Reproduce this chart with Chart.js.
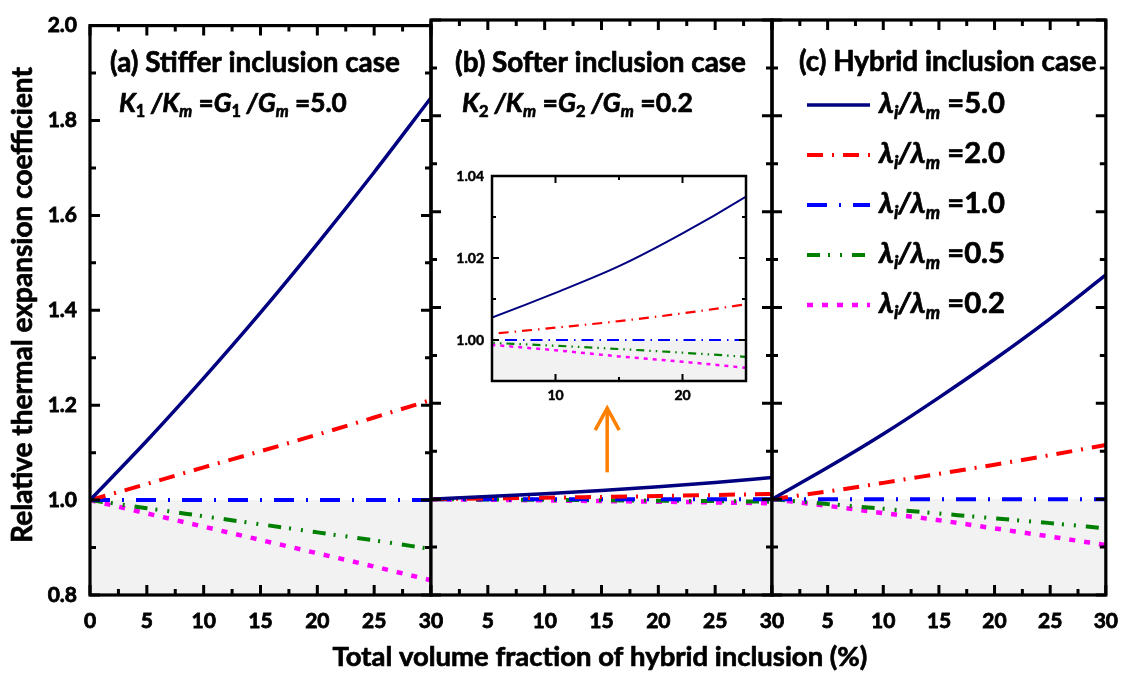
<!DOCTYPE html>
<html><head><meta charset="utf-8">
<script src="https://cdn.jsdelivr.net/npm/chart.js@4.4.0/dist/chart.umd.min.js"></script>
<style>
html,body{margin:0;padding:0;background:#fff}
#wrap{position:relative;width:1132px;height:675px;overflow:hidden}
canvas{position:absolute;left:0;top:0}
</style></head>
<body><div id="wrap">
<canvas id="cA" width="1132" height="675"></canvas>
<canvas id="cB" width="1132" height="675"></canvas>
<canvas id="cC" width="1132" height="675"></canvas>
<canvas id="cI" width="1132" height="675"></canvas>
</div>
<script>
// ---------------- DATA ----------------
const fractions = [0, 5, 10, 15, 20, 25, 30];
const ratioLabels = ['5.0', '2.0', '1.0', '0.5', '0.2'];
// (a) stiffer inclusion
const stiff50 = [1.000, 1.125, 1.257, 1.395, 1.540, 1.691, 1.848];
const stiff20 = [1.000, 1.034, 1.069, 1.103, 1.138, 1.174, 1.211];
const stiff10 = [1.000, 1.000, 1.000, 1.000, 1.000, 1.000, 1.000];
const stiff05 = [1.000, 0.983, 0.966, 0.949, 0.932, 0.915, 0.897];
const stiff02 = [1.000, 0.972, 0.944, 0.916, 0.888, 0.860, 0.831];
// (b) softer inclusion
const soft50 = [1.000, 1.0055, 1.0115, 1.018, 1.026, 1.035, 1.045];
const soft20 = [1.000, 1.0015, 1.0030, 1.0046, 1.0065, 1.0087, 1.011];
const soft10 = [1.000, 1.000, 1.000, 1.000, 1.000, 1.000, 1.000];
const soft05 = [1.000, 0.9993, 0.9986, 0.9978, 0.9969, 0.9959, 0.9948];
const soft02 = [1.000, 0.9988, 0.9975, 0.9960, 0.9947, 0.9932, 0.9915];
// (c) hybrid inclusion
const hyb50 = [1.000, 1.066, 1.136, 1.212, 1.292, 1.377, 1.468];
const hyb20 = [1.000, 1.016, 1.034, 1.053, 1.072, 1.092, 1.113];
const hyb10 = [1.000, 1.000, 1.000, 1.000, 1.000, 1.000, 1.000];
const hyb05 = [1.000, 0.990, 0.980, 0.970, 0.960, 0.950, 0.939];
const hyb02 = [1.000, 0.986, 0.971, 0.956, 0.939, 0.922, 0.904];
// ticks
const xTickValues = [0, 5, 10, 15, 20, 25, 30];
const xMinorValues = [2.5, 7.5, 12.5, 17.5, 22.5, 27.5];
const yTickValues = [0.8, 1.0, 1.2, 1.4, 1.6, 1.8, 2.0];
const yMinorValues = [0.9, 1.1, 1.3, 1.5, 1.7, 1.9];
const insetXTicks = [10, 20];
const insetXMinor = [5, 15, 25];
const insetYTicks = [1.00, 1.02, 1.04];
const insetYMinor = [1.01, 1.03];
// text
const panelTitles = ['(a) Stiffer inclusion case', '(b) Softer inclusion case', '(c) Hybrid inclusion case'];
const xTitle = 'Total volume fraction of hybrid inclusion (%)';
const yTitle = 'Relative thermal expansion coefficient';

// ---------------- STYLE ----------------
const lineColors = ['#000080', '#ff0000', '#0000ff', '#008000', '#ff00ff'];
const mainWidths = [3.5, 4, 4, 4, 4.5];
const mainDash = [[], [16, 9, 2, 9], [20, 12, 2, 12], [13, 8, 2, 10, 2, 10], [6, 9]];
const insetWidths = [2, 2.2, 2.2, 2.2, 2.5];
const insetDash = [[], [10, 6, 1.5, 6], [12, 6, 1.5, 6], [8, 5, 1.5, 5, 1.5, 5], [4, 5]];
const fam = 'Lato, "Open Sans", "DejaVu Sans", sans-serif';

Chart.defaults.font.family = fam;
Chart.defaults.color = '#000';

function fitSize(ctx, text, w, style) {
  ctx.font = style + ' 100px ' + fam;
  return 100 * w / ctx.measureText(text).width;
}
function heavyText(ctx, t, x, y) {
  ctx.fillText(t, x, y);
  ctx.strokeText(t, x, y);
}
// parts: [text, style]  style: b bold, i bold italic, sb sub bold, si sub italic
function richWidth(ctx, parts, size) {
  let w = 0;
  for (const [t, st] of parts) {
    const sub = st[0] === 's', it = st[st.length - 1] === 'i';
    ctx.font = (it ? 'italic ' : '') + 'bold ' + (sub ? size * 0.62 : size) + 'px ' + fam;
    w += ctx.measureText(t).width;
  }
  return w;
}
function drawRich(ctx, parts, x, y, targetW) {
  const size = 100 * targetW / richWidth(ctx, parts, 100);
  let cx = x;
  ctx.textAlign = 'left'; ctx.textBaseline = 'alphabetic';
  for (const [t, st] of parts) {
    const sub = st[0] === 's', it = st[st.length - 1] === 'i';
    ctx.font = (it ? 'italic ' : '') + 'bold ' + (sub ? size * 0.62 : size) + 'px ' + fam;
    heavyText(ctx, t, cx, y + (sub ? size * 0.2 : 0));
    cx += ctx.measureText(t).width;
  }
}

function decorPlugin(o) {
  return {
    id: 'decor',
    beforeDatasetsDraw(chart) {
      const {ctx, chartArea: a, scales: {y}} = chart;
      const y1 = y.getPixelForValue(1.0);
      ctx.save();
      ctx.fillStyle = '#f2f2f2';
      ctx.fillRect(a.left, y1, a.right - a.left, a.bottom - y1);
      ctx.restore();
    },
    afterDraw(chart) {
      const {ctx, chartArea: a, scales: {x, y}} = chart;
      ctx.save();
      ctx.strokeStyle = '#000';
      ctx.lineCap = 'butt';
      ctx.lineWidth = o.tickW;
      const vt = (vals, L) => vals.forEach(v => {
        const p = x.getPixelForValue(v);
        ctx.beginPath();
        ctx.moveTo(p, a.bottom); ctx.lineTo(p, a.bottom - L);
        ctx.moveTo(p, a.top); ctx.lineTo(p, a.top + L);
        ctx.stroke();
      });
      const ht = (vals, L) => vals.forEach(v => {
        const p = y.getPixelForValue(v);
        ctx.beginPath();
        ctx.moveTo(a.left, p); ctx.lineTo(a.left + L, p);
        ctx.moveTo(a.right, p); ctx.lineTo(a.right - L, p);
        ctx.stroke();
      });
      vt(o.xMaj, o.majL); vt(o.xMin, o.minL);
      ht(o.yMaj, o.majL); ht(o.yMin, o.minL);
      ctx.lineWidth = o.frameW;
      ctx.strokeRect(a.left, a.top, a.right - a.left, a.bottom - a.top);
      ctx.restore();
      if (o.extra) o.extra(chart);
    }
  };
}

function makeChart(id, series, o) {
  return new Chart(document.getElementById(id), {
    type: 'line',
    data: {
      datasets: series.map((arr, i) => ({
        label: ratioLabels[i],
        data: fractions.map((f, j) => ({x: f, y: arr[j]})),
        borderColor: lineColors[i],
        borderWidth: o.widths[i],
        borderDash: o.dash[i],
        pointRadius: 0,
        cubicInterpolationMode: 'monotone',
        fill: false
      }))
    },
    options: {
      animation: false, responsive: false, devicePixelRatio: 1, events: [],
      layout: {padding: o.pad},
      plugins: {legend: {display: false}, tooltip: {enabled: false}},
      scales: {
        x: {
          type: 'linear', min: o.xmin, max: o.xmax,
          grid: {display: false, drawTicks: false}, border: {display: false},
          afterBuildTicks: s => { s.ticks = o.xLabels.map(v => ({value: v})); },
          ticks: {autoSkip: false, maxRotation: 0, padding: o.xPad, color: '#000',
                  textStrokeColor: '#000', textStrokeWidth: o.tickStroke,
                  font: {family: fam, size: o.tickSize, weight: 'bold'},
                  callback: o.xcb || (v => String(v))},
          afterFit: s => { s.height = o.xH; }
        },
        y: {
          type: 'linear', min: o.ymin, max: o.ymax, display: o.yDisp,
          grid: {display: false, drawTicks: false}, border: {display: false},
          afterBuildTicks: s => { s.ticks = o.yLabels.map(v => ({value: v})); },
          ticks: {autoSkip: false, padding: o.yPad, color: '#000',
                  textStrokeColor: '#000', textStrokeWidth: o.tickStroke,
                  font: {family: fam, size: o.tickSize, weight: 'bold'},
                  callback: v => v.toFixed(o.yDec)},
          afterFit: s => { if (o.yDisp) s.width = o.yW; }
        }
      }
    },
    plugins: [decorPlugin(o)]
  });
}

const mainOpts = {
  widths: mainWidths, dash: mainDash, xmin: 0, xmax: 30, ymin: 0.8, ymax: 2.0,
  xLabels: xTickValues, yLabels: yTickValues, tickSize: 21, tickStroke: 0.8, xPad: 14, yPad: 13, yDec: 1,
  xH: 80, yW: 90, tickW: 3, frameW: 3.2, majL: 10, minL: 6,
  xMaj: xTickValues, xMin: xMinorValues, yMaj: yTickValues, yMin: yMinorValues
};

makeChart('cA', [stiff50, stiff20, stiff10, stiff05, stiff02],
  Object.assign({}, mainOpts, {yDisp: true, pad: {left: 0, top: 20, right: 701, bottom: 0}}));

makeChart('cB', [soft50, soft20, soft10, soft05, soft02],
  Object.assign({}, mainOpts, {yDisp: false, pad: {left: 431, top: 20, right: 360, bottom: 0},
    xcb: v => (v === 0 ? '' : String(v)),
    extra(chart) {
      const {ctx, scales: {x, y}} = chart;
      const px = x.getPixelForValue(15.5);
      const yTip = y.getPixelForValue(1.192), yBot = y.getPixelForValue(1.056);
      ctx.save();
      ctx.strokeStyle = '#ff8000'; ctx.lineWidth = 3.5; ctx.lineCap = 'butt';
      ctx.beginPath(); ctx.moveTo(px, yBot); ctx.lineTo(px, yTip + 2); ctx.stroke();
      ctx.beginPath(); ctx.moveTo(px - 12, yTip + 23); ctx.lineTo(px, yTip + 1); ctx.lineTo(px + 12, yTip + 23); ctx.stroke();
      ctx.restore();
    }}));

makeChart('cC', [hyb50, hyb20, hyb10, hyb05, hyb02],
  Object.assign({}, mainOpts, {yDisp: false, pad: {left: 772, top: 20, right: 19, bottom: 0},
    xcb: v => (v === 0 ? '' : String(v)),
    extra(chart) {
      const ctx = chart.ctx;
      ctx.save();
      ctx.fillStyle = '#000';
      ctx.strokeStyle = '#000';
      ctx.lineWidth = 0.7;
      ctx.lineJoin = 'round';
      // panel titles
      const ts = fitSize(ctx, panelTitles[0], 290, 'bold');
      ctx.font = 'bold ' + ts + 'px ' + fam;
      ctx.textAlign = 'left'; ctx.textBaseline = 'alphabetic';
      heavyText(ctx, panelTitles[0], 110, 72);
      heavyText(ctx, panelTitles[1], 455, 72);
      heavyText(ctx, panelTitles[2], 799, 71);
      // formulas
      drawRich(ctx, [['K','i'],['1','sb'],[' /','i'],['K','i'],['m','si'],[' =','b'],['G','i'],['1','sb'],[' /','i'],['G','i'],['m','si'],[' =5.0','b']], 119, 112, 228);
      drawRich(ctx, [['K','i'],['2','sb'],[' /','i'],['K','i'],['m','si'],[' =','b'],['G','i'],['2','sb'],[' /','i'],['G','i'],['m','si'],[' =0.2','b']], 462, 112, 231);
      // legend
      ratioLabels.forEach((r, i) => {
        const yy = 105 + i * 50;
        ctx.save();
        ctx.strokeStyle = lineColors[i]; ctx.lineWidth = mainWidths[i]; ctx.setLineDash(mainDash[i]);
        ctx.beginPath(); ctx.moveTo(807, yy); ctx.lineTo(870, yy); ctx.stroke();
        ctx.restore();
        drawRich(ctx, [['λ','i'],['i','si'],['/','i'],['λ','i'],['m','si'],[' =' + r,'b']], 879, yy + 8, 126);
      });
      // axis titles
      const xs = fitSize(ctx, xTitle, 535, 'bold');
      ctx.font = 'bold ' + xs + 'px ' + fam;
      ctx.textAlign = 'center';
      heavyText(ctx, xTitle, 600, 666);
      const ys = fitSize(ctx, yTitle, 476, 'bold');
      ctx.font = 'bold ' + ys + 'px ' + fam;
      ctx.translate(32, 305); ctx.rotate(-Math.PI / 2);
      heavyText(ctx, yTitle, 0, 0);
      ctx.restore();
    }}));

makeChart('cI', [soft50, soft20, soft10, soft05, soft02], {
  widths: insetWidths, dash: insetDash, xmin: 5, xmax: 25, ymin: 0.99, ymax: 1.04,
  xLabels: insetXTicks, yLabels: insetYTicks, tickSize: 14, tickStroke: 0.5, xPad: 6, yPad: 8, yDec: 2,
  xH: 24, yW: 50, tickW: 2, frameW: 2.5, majL: 7, minL: 4, yDisp: true,
  pad: {left: 442, top: 176, right: 386, bottom: 270},
  xMaj: insetXTicks, xMin: insetXMinor, yMaj: insetYTicks, yMin: insetYMinor
});
</script>
</body></html>
